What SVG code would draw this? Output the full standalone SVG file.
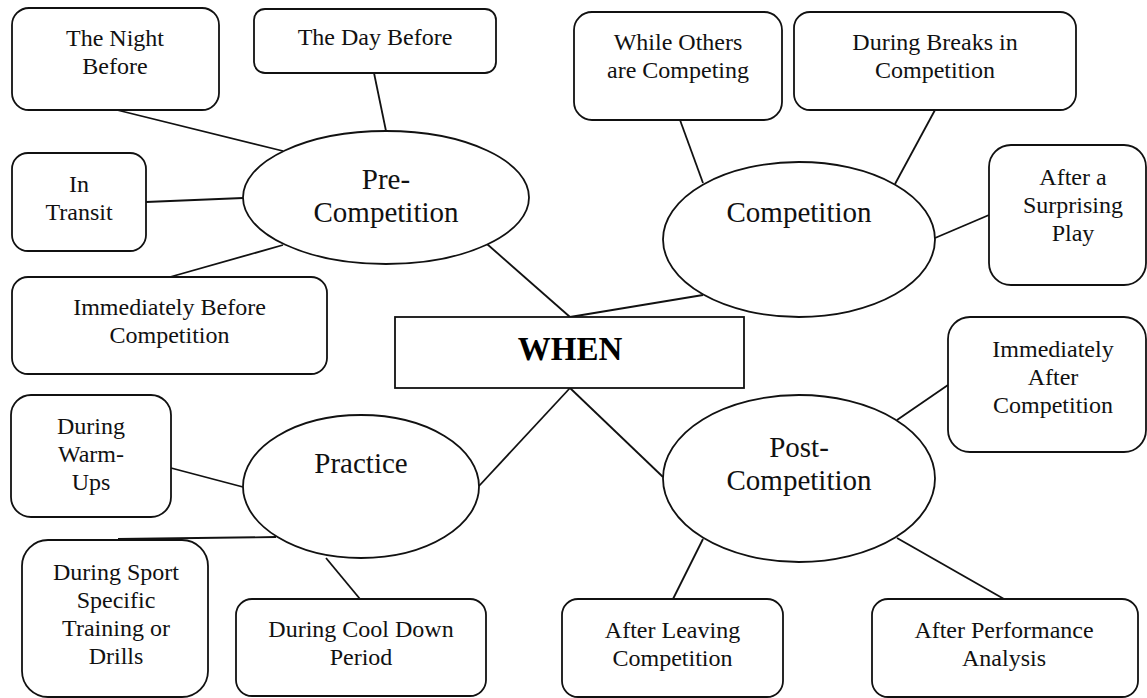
<svg xmlns="http://www.w3.org/2000/svg" width="1147" height="698" viewBox="0 0 1147 698">
<style>
.bx{fill:#fff;stroke:#111;stroke-width:1.8}
.el{fill:#fff;stroke:#111;stroke-width:1.8}
.t{font-family:"Liberation Serif","Times New Roman",serif;font-size:24px;fill:#111;text-anchor:middle}
.te{font-family:"Liberation Serif","Times New Roman",serif;font-size:29px;fill:#111;text-anchor:middle}
.tw{font-family:"Liberation Serif","Times New Roman",serif;font-size:33px;font-weight:bold;fill:#000;text-anchor:middle}
#connectors line{stroke:#111;stroke-width:1.8}
</style>
<rect width="1147" height="698" fill="#fff"/>
<g id="connectors">
<line x1="117" y1="110" x2="283" y2="151"/>
<line x1="374" y1="73" x2="386" y2="131"/>
<line x1="146" y1="202" x2="243" y2="198"/>
<line x1="170" y1="277" x2="283" y2="245"/>
<line x1="487" y1="244" x2="570" y2="317"/>
<line x1="680" y1="120" x2="703" y2="183"/>
<line x1="935" y1="110" x2="895" y2="184"/>
<line x1="989" y1="215" x2="935" y2="238"/>
<line x1="703" y1="295" x2="570" y2="317"/>
<line x1="570" y1="388" x2="663" y2="477"/>
<line x1="948" y1="385" x2="897" y2="420"/>
<line x1="703" y1="539" x2="673" y2="599"/>
<line x1="897" y1="538" x2="1004" y2="599"/>
<line x1="570" y1="388" x2="479" y2="486"/>
<line x1="171" y1="468" x2="243" y2="487"/>
<line x1="118" y1="539" x2="276" y2="537"/>
<line x1="326" y1="558" x2="360" y2="599"/>
</g>
<g id="when">
<rect x="395" y="317" width="349" height="71" fill="#fff" stroke="#111" stroke-width="1.8"/>
<text class="tw" x="570" y="360">WHEN</text>
</g>
<g id="pre-competition">
<ellipse class="el" cx="386" cy="197.5" rx="143" ry="66.5"/>
<text class="te" x="386" y="189">Pre-</text>
<text class="te" x="386" y="222">Competition</text>
</g>
<g id="competition">
<ellipse class="el" cx="799" cy="239.5" rx="136" ry="77.5"/>
<text class="te" x="799" y="222">Competition</text>
</g>
<g id="post-competition">
<ellipse class="el" cx="799" cy="478.5" rx="136" ry="83.5"/>
<text class="te" x="799" y="457">Post-</text>
<text class="te" x="799" y="490">Competition</text>
</g>
<g id="practice">
<ellipse class="el" cx="361" cy="486.5" rx="118" ry="71.5"/>
<text class="te" x="361" y="473">Practice</text>
</g>
<g id="night-before">
<rect class="bx" x="12" y="8" width="207" height="102" rx="17"/>
<text class="t" x="115" y="46">The Night</text>
<text class="t" x="115" y="74">Before</text>
</g>
<g id="day-before">
<rect class="bx" x="254" y="9" width="242" height="64" rx="11"/>
<text class="t" x="375" y="45">The Day Before</text>
</g>
<g id="in-transit">
<rect class="bx" x="12" y="153" width="134" height="98" rx="16"/>
<text class="t" x="79" y="192">In</text>
<text class="t" x="79" y="220">Transit</text>
</g>
<g id="immediately-before">
<rect class="bx" x="12" y="277" width="315" height="97" rx="16"/>
<text class="t" x="169.5" y="315">Immediately Before</text>
<text class="t" x="169.5" y="343">Competition</text>
</g>
<g id="while-others">
<rect class="bx" x="574" y="12" width="208" height="108" rx="18"/>
<text class="t" x="678" y="50">While Others</text>
<text class="t" x="678" y="78">are Competing</text>
</g>
<g id="during-breaks">
<rect class="bx" x="794" y="12" width="282" height="98" rx="16"/>
<text class="t" x="935" y="50">During Breaks in</text>
<text class="t" x="935" y="78">Competition</text>
</g>
<g id="after-surprising-play">
<rect class="bx" x="989" y="145" width="157" height="140" rx="22"/>
<text class="t" x="1073" y="185">After a</text>
<text class="t" x="1073" y="213">Surprising</text>
<text class="t" x="1073" y="241">Play</text>
</g>
<g id="immediately-after">
<rect class="bx" x="948" y="317" width="198" height="135" rx="22"/>
<text class="t" x="1053" y="357">Immediately</text>
<text class="t" x="1053" y="385">After</text>
<text class="t" x="1053" y="413">Competition</text>
</g>
<g id="after-leaving">
<rect class="bx" x="562" y="599" width="221" height="98" rx="16"/>
<text class="t" x="672.5" y="638">After Leaving</text>
<text class="t" x="672.5" y="666">Competition</text>
</g>
<g id="after-performance">
<rect class="bx" x="872" y="599" width="266" height="98" rx="16"/>
<text class="t" x="1004" y="638">After Performance</text>
<text class="t" x="1004" y="666">Analysis</text>
</g>
<g id="warm-ups">
<rect class="bx" x="11" y="395" width="160" height="122" rx="20"/>
<text class="t" x="91" y="434">During</text>
<text class="t" x="91" y="462">Warm-</text>
<text class="t" x="91" y="490">Ups</text>
</g>
<g id="sport-specific">
<rect class="bx" x="22" y="540" width="186" height="157" rx="26"/>
<text class="t" x="116" y="580">During Sport</text>
<text class="t" x="116" y="608">Specific</text>
<text class="t" x="116" y="636">Training or</text>
<text class="t" x="116" y="664">Drills</text>
</g>
<g id="cool-down">
<rect class="bx" x="236" y="599" width="250" height="97" rx="16"/>
<text class="t" x="361" y="637">During Cool Down</text>
<text class="t" x="361" y="665">Period</text>
</g>
</svg>
